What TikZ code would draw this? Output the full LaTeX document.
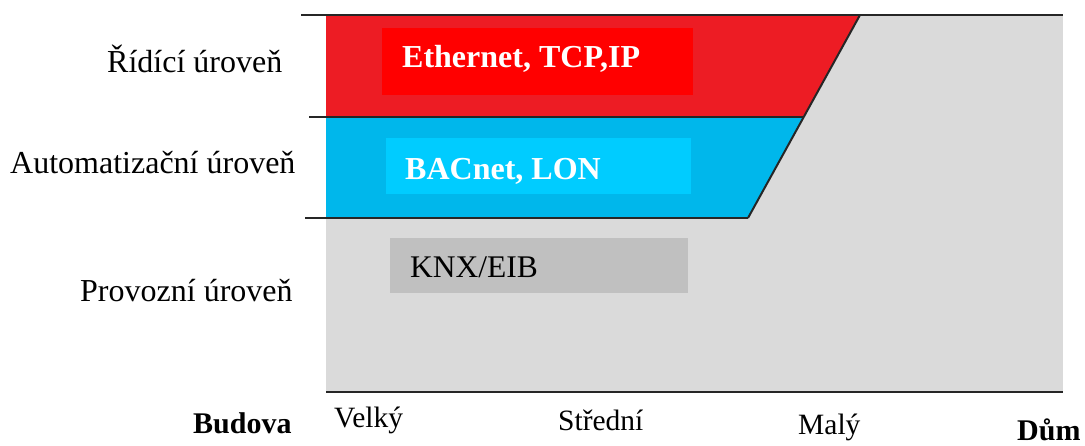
\documentclass[tikz,border=0pt]{standalone}
\usepackage{fontspec}
\setmainfont{Liberation Serif}
\definecolor{bandred}{HTML}{ED1C24}
\definecolor{boxred}{HTML}{FF0000}
\definecolor{bandblue}{HTML}{00B7EB}
\definecolor{boxblue}{HTML}{00CCFF}
\definecolor{bandgray}{HTML}{DADADA}
\definecolor{boxgray}{HTML}{C0C0C0}
\begin{document}
\begin{tikzpicture}[x=1pt,y=-1pt,
  levellabel/.style={anchor=base west,inner sep=0pt,font=\fontsize{32}{36}\selectfont},
  protolabel/.style={anchor=base west,inner sep=0pt,font=\fontsize{32}{36}\selectfont\bfseries,text=white},
  knxlabel/.style={anchor=base west,inner sep=0pt,font=\fontsize{31.5}{36}\selectfont},
  sizelabel/.style={anchor=base west,inner sep=0pt,font=\fontsize{29.5}{34}\selectfont},
  endlabel/.style={anchor=base west,inner sep=0pt,font=\fontsize{30}{34}\selectfont\bfseries},
  rule/.style={line width=2pt,draw=black!85}]
\useasboundingbox (0,0) rectangle (1085,446);
\fill[white] (0,0) rectangle (1085,446);

% corner points of the three bands
\coordinate (tl) at (326,15);
\coordinate (tr) at (1063,15);
\coordinate (br) at (1063,392);
\coordinate (bl) at (326,392);
\coordinate (s1) at (860,15);
\coordinate (s2) at (803,117);
\coordinate (s3) at (748,218);
\coordinate (m1) at (326,117);
\coordinate (m2) at (326,218);

% bands
\fill[bandgray] (tl) rectangle (br);
\fill[bandred] (tl) -- (s1) -- (s2) -- (m1) -- cycle;
\fill[bandblue] (m1) -- (s2) -- (s3) -- (m2) -- cycle;

% protocol boxes
\fill[boxred] (382,28) rectangle (693,95);
\fill[boxblue] (386,138) rectangle (691,194);
\fill[boxgray] (390,238) rectangle (688,293);

% rules
\coordinate (r0) at (301,15);
\coordinate (r1) at (309,117);
\coordinate (r2) at (305,218);
\draw[rule] (r0) -- (tr);
\draw[rule] (r1) -- (s2);
\draw[rule] (r2) -- (s3);
\draw[rule] (s1) -- (s3);
\draw[rule] (bl) -- (br);

% protocol labels
\node[protolabel] (eth) at (402,68) {Ethernet, TCP,IP};
\node[protolabel] (bac) at (405,180) {BACnet, LON};
\node[knxlabel] (knx) at (410,278) {KNX/EIB};

% level labels
\node[levellabel] (ridici) at (107,73) {Řídící úroveň};
\node[levellabel] (autom) at (10,174) {Automatizační úroveň};
\node[levellabel] (provoz) at (80,302) {Provozní úroveň};

% size axis
\node[endlabel] (budova) at (193,433) {Budova};
\node[sizelabel] (velky) at (334,428) {Velký};
\node[sizelabel] (stredni) at (558,430) {Střední};
\node[sizelabel] (maly) at (798,434) {Malý};
\node[endlabel] (dum) at (1017,440) {Dům};
\end{tikzpicture}
\end{document}
